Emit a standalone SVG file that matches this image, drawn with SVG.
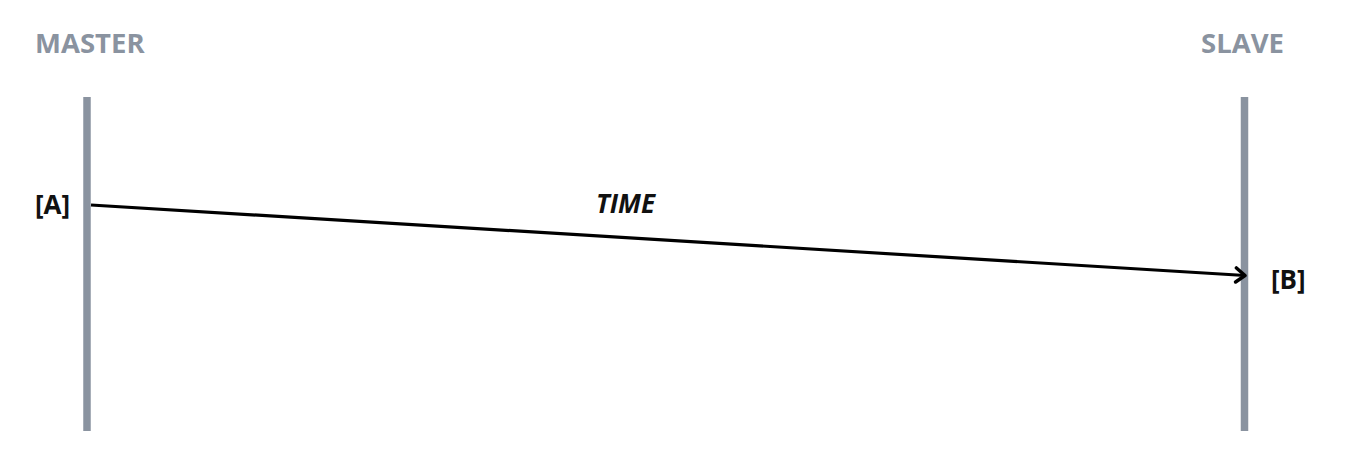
<svg xmlns="http://www.w3.org/2000/svg" width="1353" height="465" viewBox="0 0 1353 465">
<style>
.hdr{font-family:"Open Sans","Liberation Sans",sans-serif;font-weight:700;font-size:27.5px;fill:#8a93a0}
.lbl{font-family:"Open Sans","Liberation Sans",sans-serif;font-weight:700;font-size:26px;fill:#111}
.life{stroke:#8a93a0;stroke-width:7.5}
</style>
<defs>
<marker id="arr" markerWidth="16" markerHeight="18" refX="12" refY="9" orient="auto" markerUnits="userSpaceOnUse">
<path d="M3,2 L12,9 L3,16" fill="none" stroke="#000" stroke-width="3.5" stroke-linecap="round" stroke-linejoin="round"/>
</marker>
</defs>
<g id="master">
<text class="hdr" x="35" y="52.5">MASTER</text>
<line class="life" x1="87" y1="97" x2="87" y2="431"/>
<text class="lbl" x="35" y="214">[A]</text>
</g>
<g id="slave">
<text class="hdr" x="1201" y="52.5">SLAVE</text>
<line class="life" x1="1244.5" y1="97" x2="1244.5" y2="431"/>
<text class="lbl" x="1271" y="289">[B]</text>
</g>
<g id="connectors">
<line x1="91" y1="205" x2="1245" y2="275.5" stroke="#000" stroke-width="3.2" marker-end="url(#arr)"/>
<text class="lbl" x="596" y="213" font-style="italic">TIME</text>
</g>
</svg>
